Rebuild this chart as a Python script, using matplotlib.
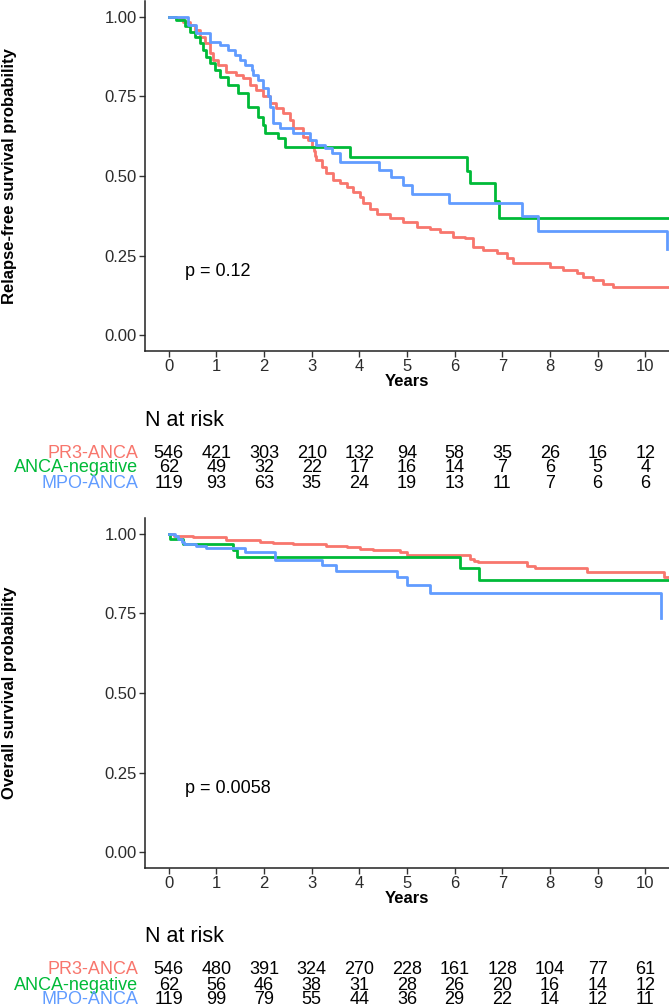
import matplotlib
matplotlib.use("Agg")
import matplotlib.pyplot as plt
import matplotlib.transforms as mtransforms

plt.rcParams["font.family"] = ["Liberation Sans", "DejaVu Sans"]

# colours (ggplot defaults)
c_pr3 = "#F8766D"
c_neg = "#00BA38"
c_mpo = "#619CFF"

groups = ["PR3-ANCA", "ANCA-negative", "MPO-ANCA"]
years = [0, 1, 2, 3, 4, 5, 6, 7, 8, 9, 10]

# relapse-free survival
rfs_pr3_t = [0, 0.16, 0.30, 0.44, 0.55, 0.65, 0.76, 0.86, 0.93, 1.04, 1.21, 1.42, 1.56, 1.70,
             1.84, 1.98, 2.12, 2.26, 2.40, 2.54, 2.61, 2.82, 2.93, 3.00, 3.04, 3.07, 3.10, 3.21,
             3.31, 3.45, 3.59, 3.73, 3.87, 4.01, 4.08, 4.22, 4.36, 4.64, 4.92, 5.20, 5.48, 5.69,
             5.97, 6.22, 6.39, 6.60, 6.88, 7.09, 7.23, 8.00, 8.28, 8.56, 8.70, 8.91, 9.12, 9.33, 10.5]
rfs_pr3_s = [1.0, 0.996, 0.985, 0.975, 0.959, 0.938, 0.917, 0.886, 0.865, 0.849, 0.828, 0.818,
             0.807, 0.786, 0.770, 0.750, 0.729, 0.713, 0.697, 0.676, 0.650, 0.624, 0.613, 0.592,
             0.578, 0.563, 0.550, 0.529, 0.508, 0.487, 0.477, 0.466, 0.451, 0.435, 0.414, 0.395,
             0.382, 0.367, 0.356, 0.341, 0.335, 0.325, 0.309, 0.304, 0.278, 0.267, 0.257, 0.241,
             0.227, 0.215, 0.204, 0.194, 0.183, 0.173, 0.162, 0.152, 0.152]
rfs_neg_t = [0, 0.16, 0.34, 0.44, 0.55, 0.65, 0.72, 0.79, 0.86, 0.97, 1.07, 1.25, 1.46, 1.67,
             1.88, 1.98, 2.02, 2.30, 2.44, 3.80, 6.27, 6.33, 6.85, 6.93, 10.5]
rfs_neg_s = [1.0, 0.991, 0.970, 0.954, 0.938, 0.917, 0.896, 0.875, 0.854, 0.833, 0.812, 0.786,
             0.760, 0.718, 0.687, 0.660, 0.634, 0.619, 0.592, 0.561, 0.517, 0.477, 0.422, 0.369, 0.369]
rfs_mpo_t = [0, 0.41, 0.57, 0.86, 1.07, 1.25, 1.39, 1.49, 1.60, 1.74, 1.77, 1.88, 1.98, 2.09,
             2.12, 2.18, 2.19, 2.33, 2.61, 2.96, 3.10, 3.28, 3.42, 3.59, 4.42, 4.67, 4.92, 5.10,
             5.88, 7.41, 7.76, 10.45]
rfs_mpo_s = [1.0, 0.975, 0.949, 0.922, 0.912, 0.896, 0.881, 0.865, 0.849, 0.833, 0.818, 0.802,
             0.776, 0.750, 0.718, 0.692, 0.666, 0.650, 0.634, 0.613, 0.598, 0.587, 0.571, 0.543,
             0.519, 0.496, 0.472, 0.445, 0.415, 0.374, 0.328, 0.272]

# overall survival
os_pr3_t = [0, 0.10, 0.51, 1.21, 1.91, 2.19, 2.61, 3.31, 3.73, 4.01, 4.29, 4.85, 4.99, 6.32,
            6.40, 6.50, 7.51, 7.69, 8.77, 10.39, 10.5]
os_pr3_s = [1.0, 0.995, 0.990, 0.982, 0.976, 0.972, 0.969, 0.963, 0.958, 0.953, 0.948, 0.944,
            0.934, 0.921, 0.916, 0.911, 0.900, 0.892, 0.879, 0.864, 0.864]
os_neg_t = [0, 0.03, 0.29, 1.35, 1.44, 6.11, 6.52, 10.5]
os_neg_s = [1.0, 0.984, 0.967, 0.951, 0.929, 0.892, 0.856, 0.856]
os_mpo_t = [0, 0.13, 0.20, 0.27, 0.31, 0.58, 0.79, 1.60, 2.23, 3.21, 3.52, 4.78, 4.99, 5.48, 10.33]
os_mpo_s = [1.0, 0.995, 0.984, 0.976, 0.969, 0.962, 0.955, 0.944, 0.919, 0.903, 0.883, 0.864,
            0.838, 0.813, 0.735]

# numbers at risk
rfs_risk_pr3 = [546, 421, 303, 210, 132, 94, 58, 35, 26, 16, 12]
rfs_risk_neg = [62, 49, 32, 22, 17, 16, 14, 7, 6, 5, 4]
rfs_risk_mpo = [119, 93, 63, 35, 24, 19, 13, 11, 7, 6, 6]
os_risk_pr3 = [546, 480, 391, 324, 270, 228, 161, 128, 104, 77, 61]
os_risk_neg = [62, 56, 46, 38, 31, 28, 26, 20, 16, 14, 12]
os_risk_mpo = [119, 99, 79, 55, 44, 36, 29, 22, 14, 12, 11]

W, H = 669, 1008
fig = plt.figure(figsize=(W / 100, H / 100), dpi=100)


def fy(px):
    return 1 - px / H


def km_panel(ax_top_px, curves, ylabel, ptext, risk):
    ax = fig.add_axes([145 / W, fy(ax_top_px + 350), 1 - 145 / W, 350 / H])
    for (t, s), col in zip(curves, [c_pr3, c_neg, c_mpo]):
        ax.step(t, s, where="post", color=col, lw=2.0)
    ax.set_xlim(-0.5, 10.5)
    ax.set_ylim(-0.05, 1.05)
    ax.set_xticks(years)
    ax.set_yticks([0, 0.25, 0.5, 0.75, 1.0])
    ax.set_yticklabels(["0.00", "0.25", "0.50", "0.75", "1.00"])
    ax.spines["top"].set_visible(False)
    ax.spines["right"].set_visible(False)
    for sp in ["left", "bottom"]:
        ax.spines[sp].set_linewidth(1.1)
        ax.spines[sp].set_color("#222222")
    ax.tick_params(length=4, width=1, color="#333333", labelsize=12, labelcolor="#2b2b2b", pad=2)
    ax.set_xlabel("Years", fontsize=12, fontweight="bold", labelpad=0)
    ax.text(0.35, 0.2, ptext, fontsize=13, ha="left", va="center")
    fig.text(10 / W, fy(ax_top_px + 175), ylabel, rotation=90, fontsize=12,
             fontweight="bold", ha="center", va="center")

    # risk table
    bottom_px = ax_top_px + 350
    trans = mtransforms.blended_transform_factory(ax.transData, fig.transFigure)
    fig.text(145 / W, fy(bottom_px + 69), "N at risk", fontsize=15.5, ha="left", va="center")
    for i, (name, col, vals) in enumerate(zip(groups, [c_pr3, c_neg, c_mpo], risk)):
        ypx = bottom_px + 102 + 15 * i
        fig.text(138 / W, fy(ypx), name, color=col, fontsize=13, ha="right", va="center")
        for x, v in zip(years, vals):
            ax.text(x, fy(ypx), str(v), transform=trans, fontsize=13,
                    ha="center", va="center", clip_on=False)
    return ax


km_panel(1, [(rfs_pr3_t, rfs_pr3_s), (rfs_neg_t, rfs_neg_s), (rfs_mpo_t, rfs_mpo_s)],
         "Relapse-free survival probability", "p = 0.12",
         [rfs_risk_pr3, rfs_risk_neg, rfs_risk_mpo])
km_panel(518, [(os_pr3_t, os_pr3_s), (os_neg_t, os_neg_s), (os_mpo_t, os_mpo_s)],
         "Overall survival probability", "p = 0.0058",
         [os_risk_pr3, os_risk_neg, os_risk_mpo])

fig.savefig("out.png", dpi=100)
